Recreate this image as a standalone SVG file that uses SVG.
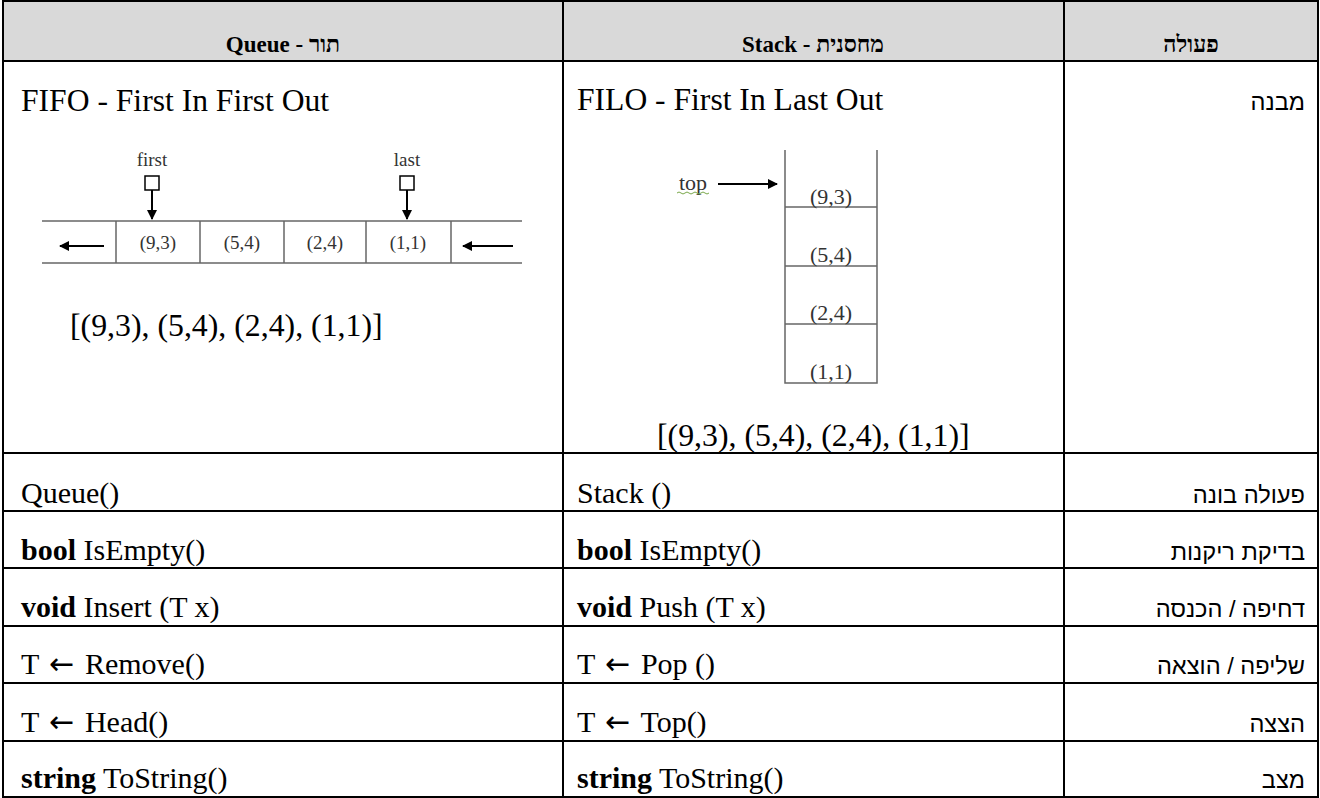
<svg xmlns="http://www.w3.org/2000/svg" width="1320" height="798" viewBox="0 0 1320 798">
<style>
.grid{stroke:#000;stroke-width:2;fill:none}
.t{font-family:"Liberation Serif","Times New Roman",serif;font-size:30px;fill:#000}
.big{font-size:31.6px}
.lst{font-size:31.8px}
.b{font-weight:bold}
.arw{font-family:"DejaVu Sans",sans-serif;font-size:30px;font-weight:normal}
.hd{font-family:"Liberation Serif","Times New Roman","DejaVu Sans",serif;font-size:23px;font-weight:bold;fill:#000;text-anchor:middle}
.he{font-family:"Liberation Sans",Arial,"DejaVu Sans",sans-serif;font-size:23.6px;fill:#000;text-anchor:end}
.sm{font-family:"Liberation Serif","Times New Roman",serif;font-size:19px;fill:#333;text-anchor:middle}
.st{font-family:"Liberation Serif","Times New Roman",serif;font-size:22px;fill:#333;text-anchor:middle}
.gl{stroke:#666;stroke-width:1.5;fill:none}
.ar{stroke:#000;stroke-width:2;fill:none}
</style>
<defs>
<marker id="ah" viewBox="0 0 10 10" refX="9" refY="5" markerWidth="5" markerHeight="5" orient="auto" markerUnits="strokeWidth">
<path d="M0,0 L10,5 L0,10 z" fill="#000"/>
</marker>
</defs>
<rect x="3" y="1" width="1315" height="60" fill="#d9d9d9"/>
<g id="grid" class="grid">
<rect x="3" y="1" width="1315" height="796"/>
<line x1="3" y1="61" x2="1318" y2="61"/>
<line x1="3" y1="453" x2="1318" y2="453"/>
<line x1="3" y1="511" x2="1318" y2="511"/>
<line x1="3" y1="568" x2="1318" y2="568"/>
<line x1="3" y1="626" x2="1318" y2="626"/>
<line x1="3" y1="683" x2="1318" y2="683"/>
<line x1="3" y1="741" x2="1318" y2="741"/>
<line x1="563" y1="1" x2="563" y2="797"/>
<line x1="1064" y1="1" x2="1064" y2="797"/>
</g>
<g id="header">
<text class="hd" x="283" y="52">Queue - תור</text>
<text class="hd" x="813" y="52">Stack - מחסנית</text>
<text class="hd" x="1191" y="52">פעולה</text>
</g>
<g id="row-structure">
<text class="t big" x="21" y="111">FIFO - First In First Out</text>
<text class="t big" x="577" y="110">FILO - First In Last Out</text>
<text class="he" x="1305" y="110">מבנה</text>
<text class="t lst" x="70" y="336">[(9,3), (5,4), (2,4), (1,1)]</text>
<text class="t lst" x="657" y="446">[(9,3), (5,4), (2,4), (1,1)]</text>
</g>
<g id="queue-diagram">
<line class="gl" x1="42" y1="221" x2="522" y2="221"/>
<line class="gl" x1="42" y1="263" x2="522" y2="263"/>
<line class="gl" x1="116" y1="221" x2="116" y2="263"/>
<line class="gl" x1="200" y1="221" x2="200" y2="263"/>
<line class="gl" x1="284" y1="221" x2="284" y2="263"/>
<line class="gl" x1="366" y1="221" x2="366" y2="263"/>
<line class="gl" x1="451" y1="221" x2="451" y2="263"/>
<text class="sm" x="158" y="249">(9,3)</text>
<text class="sm" x="242" y="249">(5,4)</text>
<text class="sm" x="325" y="249">(2,4)</text>
<text class="sm" x="408" y="249">(1,1)</text>
<text class="sm" x="152" y="166">first</text>
<text class="sm" x="407" y="166">last</text>
<rect x="145" y="176" width="14" height="14" fill="#fff" stroke="#000" stroke-width="1.5"/>
<rect x="400" y="176" width="14" height="14" fill="#fff" stroke="#000" stroke-width="1.5"/>
</g>
<g id="stack-diagram">
<polyline class="gl" points="785,150 785,383 877,383 877,150"/>
<line class="gl" x1="785" y1="207" x2="877" y2="207"/>
<line class="gl" x1="785" y1="266" x2="877" y2="266"/>
<line class="gl" x1="785" y1="324" x2="877" y2="324"/>
<text class="st" x="831" y="204">(9,3)</text>
<text class="st" x="831" y="262">(5,4)</text>
<text class="st" x="831" y="320">(2,4)</text>
<text class="st" x="831" y="379">(1,1)</text>
<text class="st" x="693" y="190">top</text>
<path d="M677,193 q2,-2 4,0 t4,0 t4,0 t4,0 t4,0 t4,0 t4,0 t4,0" stroke="#7aa84a" stroke-width="1" fill="none"/>
</g>
<g id="connectors">
<line class="ar" x1="152" y1="190" x2="152" y2="219" marker-end="url(#ah)" stroke-width="1.5"/>
<line class="ar" x1="407" y1="190" x2="407" y2="219" marker-end="url(#ah)" stroke-width="1.5"/>
<line class="ar" x1="104" y1="246" x2="60" y2="246" marker-end="url(#ah)"/>
<line class="ar" x1="513" y1="246" x2="463" y2="246" marker-end="url(#ah)"/>
<line class="ar" x1="718" y1="184" x2="777" y2="184" marker-end="url(#ah)"/>
</g>
<g id="row-constructor">
<text class="t" x="21" y="503">Queue()</text>
<text class="t" x="577" y="503">Stack ()</text>
<text class="he" x="1305" y="503">פעולה בונה</text>
</g>
<g id="row-isempty">
<text class="t" x="21" y="560"><tspan class="b">bool</tspan> IsEmpty()</text>
<text class="t" x="577" y="560"><tspan class="b">bool</tspan> IsEmpty()</text>
<text class="he" x="1305" y="560">בדיקת ריקנות</text>
</g>
<g id="row-insert">
<text class="t" x="21" y="617"><tspan class="b">void</tspan> Insert (T x)</text>
<text class="t" x="577" y="617"><tspan class="b">void</tspan> Push (T x)</text>
<text class="he" x="1305" y="617">דחיפה / הכנסה</text>
</g>
<g id="row-remove">
<text class="t" x="21" y="674">T <tspan class="arw" dx="3">←</tspan><tspan dx="3"> Remove()</tspan></text>
<text class="t" x="577" y="674">T <tspan class="arw" dx="3">←</tspan><tspan dx="3"> Pop ()</tspan></text>
<text class="he" x="1305" y="674">שליפה / הוצאה</text>
</g>
<g id="row-head">
<text class="t" x="21" y="732">T <tspan class="arw" dx="3">←</tspan><tspan dx="3"> Head()</tspan></text>
<text class="t" x="577" y="732">T <tspan class="arw" dx="3">←</tspan><tspan dx="3"> Top()</tspan></text>
<text class="he" x="1305" y="732">הצצה</text>
</g>
<g id="row-tostring">
<text class="t" x="21" y="788"><tspan class="b">string</tspan> ToString()</text>
<text class="t" x="577" y="788"><tspan class="b">string</tspan> ToString()</text>
<text class="he" x="1305" y="788">מצב</text>
</g>
</svg>
